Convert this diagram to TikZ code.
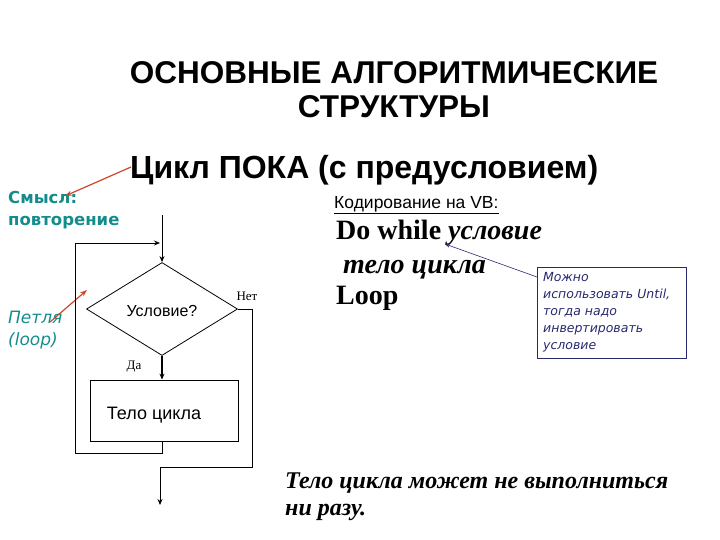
\documentclass[tikz,border=0pt]{standalone}
\usepackage{fontspec}
\setmainfont{Liberation Serif}
\newfontfamily\arialf{Liberation Sans}
\newfontfamily\verdf{DejaVu Sans}
\usetikzlibrary{arrows.meta,shapes.geometric}
\definecolor{tealc}{RGB}{20,140,140}
\definecolor{redc}{RGB}{205,70,40}
\definecolor{navyc}{RGB}{40,40,110}
\tikzset{
  flow/.style={draw=black,line width=0.8pt},
  conn/.style={line width=0.8pt,-{Stealth[length=6pt,width=5pt]}},
  redarrow/.style={draw=redc,line width=1.2pt,-{Stealth[length=7pt,width=5pt]}},
  plain/.style={inner sep=0pt,anchor=base west}
}
\begin{document}
\begin{tikzpicture}[x=1pt,y=-1pt]
\useasboundingbox (0,0) rectangle (720,540);
% titles
\node[inner sep=0pt,align=center,font=\arialf\bfseries\fontsize{31.5}{34}\selectfont] (title) at (394,90) {ОСНОВНЫЕ АЛГОРИТМИЧЕСКИЕ\\СТРУКТУРЫ};
\node[plain,font=\arialf\bfseries\fontsize{32}{34}\selectfont] (sub) at (130,179) {Цикл ПОКА (с предусловием)};
% side notes
\node[plain,align=left,font=\verdf\bfseries\fontsize{16.5}{22}\selectfont,text=tealc,anchor=north west] (smysl) at (8,191) {Смысл:\\повторение};
\node[plain,align=left,font=\verdf\itshape\fontsize{17}{22}\selectfont,text=tealc,anchor=north west] (petlya) at (8,311) {Петля\\(loop)};
\coordinate (sA) at (131,167);
\coordinate (sB) at (65,196);
\draw[redarrow] (sA) -- (sB);
\coordinate (pA) at (50,322);
\coordinate (pB) at (87,290);
\draw[redarrow] (pA) -- (pB);
% flowchart
\node[diamond,draw,line width=0.8pt,minimum width=151pt,minimum height=93pt,inner sep=0pt,aspect=1.6] (cond) at (162,309) {};
\node[font=\arialf\fontsize{16}{18}\selectfont] (condt) at (162,311) {Условие?};
\node[draw,line width=0.8pt,minimum width=148pt,minimum height=61pt,inner sep=0pt] (body) at (164,410.5) {};
\node[font=\arialf\fontsize{18}{20}\selectfont] (bodyt) at (154,415) {Тело цикла};
\node[font=\fontsize{13}{14}\selectfont] (net) at (247,296) {Нет};
\node[font=\fontsize{13}{14}\selectfont] (da) at (134,367) {Да};
\coordinate (topin) at (162,215);
\coordinate (loopL) at (75,243);
\coordinate (loopM) at (160,243);
\coordinate (loopB) at (75,453);
\coordinate (bodyB) at (162,453);
\coordinate (exR) at (252,309);
\coordinate (exB) at (252,467);
\coordinate (exL) at (160,467);
\coordinate (exEnd) at (160,505);
\draw[conn] (topin) -- (cond.north);
\draw[conn] (loopL) -- (loopM);
\draw[flow] (loopL) -- (loopB) -- (bodyB) -- (body.south -| bodyB);
\draw[conn,line width=1.6pt] (cond.south) -- (body.north -| cond.south);
\draw[flow] (cond.east) -- (exR) -- (exB) -- (exL);
\draw[conn] (exL) -- (exEnd);
% VB code
\node[plain,font=\arialf\fontsize{17.5}{20}\selectfont] (kod) at (334,208) {\underline{Кодирование на VB:}};
\node[plain,font=\bfseries\fontsize{28}{30}\selectfont] (dowhile) at (336,240) {Do while \textit{условие}};
\node[plain,font=\bfseries\itshape\fontsize{28}{30}\selectfont] (telo) at (343,273) {тело цикла};
\node[plain,font=\bfseries\fontsize{28}{30}\selectfont] (loopw) at (336,304) {Loop};
% callout
\node[draw=navyc,line width=0.6pt,minimum width=149pt,minimum height=91pt,inner sep=0pt,anchor=north west] (call) at (537,267) {};
\node[anchor=north west,inner sep=0pt,align=left,text=navyc,font=\verdf\itshape\fontsize{12.5}{17}\selectfont] (callt) at (543,272) {Можно\\использовать Until,\\тогда надо\\инвертировать\\условие};
\coordinate (cA) at (537,277);
\coordinate (cB) at (445,244);
\draw[navyc,line width=0.6pt,-{Stealth[length=5pt,width=4pt]}] (cA) -- (cB);
% bottom note
\node[plain,font=\bfseries\itshape\fontsize{24}{28}\selectfont] (note1) at (285,488) {Тело цикла может не выполниться};
\node[plain,font=\bfseries\itshape\fontsize{24}{28}\selectfont] (note2) at (285,515) {ни разу.};
\end{tikzpicture}
\end{document}
